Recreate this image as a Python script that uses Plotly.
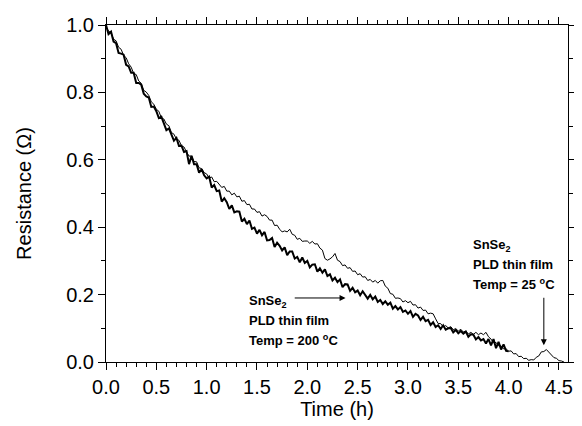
import numpy as np
import plotly.graph_objects as go

# resistance vs time (step 0.025 h)
t_200 = np.round(np.arange(0, 161) * 0.025, 3)
r_200 = [
    1.000, 0.973, 0.980, 0.951, 0.946, 0.917, 0.915, 0.912, 0.882, 0.877,
    0.858, 0.858, 0.828, 0.828, 0.823, 0.796, 0.788, 0.785, 0.757, 0.758,
    0.744, 0.724, 0.728, 0.706, 0.688, 0.693, 0.677, 0.657, 0.665, 0.641,
    0.642, 0.623, 0.626, 0.587, 0.612, 0.587, 0.587, 0.562, 0.572, 0.554,
    0.545, 0.550, 0.518, 0.525, 0.507, 0.509, 0.476, 0.486, 0.474, 0.454,
    0.465, 0.444, 0.447, 0.446, 0.417, 0.425, 0.409, 0.420, 0.395, 0.399,
    0.381, 0.392, 0.376, 0.386, 0.361, 0.362, 0.368, 0.341, 0.354, 0.345,
    0.331, 0.340, 0.317, 0.328, 0.328, 0.307, 0.312, 0.296, 0.310, 0.294,
    0.300, 0.281, 0.289, 0.290, 0.268, 0.278, 0.265, 0.275, 0.255, 0.260,
    0.242, 0.250, 0.237, 0.245, 0.222, 0.231, 0.230, 0.211, 0.220, 0.207,
    0.212, 0.198, 0.210, 0.197, 0.188, 0.199, 0.186, 0.194, 0.178, 0.184,
    0.172, 0.180, 0.170, 0.176, 0.158, 0.166, 0.156, 0.163, 0.149, 0.153,
    0.143, 0.151, 0.134, 0.143, 0.138, 0.125, 0.134, 0.121, 0.125, 0.110,
    0.118, 0.104, 0.109, 0.098, 0.109, 0.096, 0.100, 0.101, 0.088, 0.095,
    0.085, 0.092, 0.084, 0.090, 0.075, 0.082, 0.081, 0.067, 0.074, 0.064,
    0.068, 0.055, 0.068, 0.049, 0.068, 0.041, 0.060, 0.037, 0.052, 0.033,
    0.032,
]

t_25 = np.round(np.arange(0, 183) * 0.025, 3)
r_25 = [
    0.995, 0.982, 0.977, 0.958, 0.953, 0.934, 0.928, 0.910, 0.903, 0.885,
    0.875, 0.856, 0.853, 0.834, 0.827, 0.806, 0.801, 0.791, 0.772, 0.765,
    0.750, 0.744, 0.724, 0.721, 0.706, 0.701, 0.681, 0.676, 0.661, 0.658,
    0.641, 0.638, 0.623, 0.611, 0.611, 0.595, 0.594, 0.576, 0.574, 0.562,
    0.558, 0.546, 0.549, 0.535, 0.536, 0.525, 0.518, 0.521, 0.507, 0.507,
    0.496, 0.501, 0.490, 0.492, 0.477, 0.479, 0.467, 0.468, 0.454, 0.454,
    0.444, 0.446, 0.433, 0.437, 0.432, 0.421, 0.421, 0.405, 0.406, 0.394,
    0.386, 0.389, 0.386, 0.394, 0.379, 0.376, 0.364, 0.367, 0.358, 0.359,
    0.359, 0.352, 0.358, 0.350, 0.351, 0.338, 0.332, 0.307, 0.302, 0.306,
    0.312, 0.322, 0.302, 0.298, 0.286, 0.288, 0.278, 0.280, 0.269, 0.270,
    0.259, 0.262, 0.252, 0.253, 0.242, 0.245, 0.237, 0.242, 0.234, 0.241,
    0.242, 0.225, 0.219, 0.203, 0.201, 0.189, 0.190, 0.188, 0.178, 0.182,
    0.176, 0.180, 0.169, 0.170, 0.160, 0.163, 0.153, 0.154, 0.143, 0.145,
    0.143, 0.128, 0.114, 0.114, 0.104, 0.108, 0.101, 0.105, 0.096, 0.099,
    0.092, 0.097, 0.089, 0.092, 0.083, 0.088, 0.082, 0.088, 0.081, 0.086,
    0.081, 0.088, 0.075, 0.068, 0.057, 0.058, 0.048, 0.048, 0.039, 0.039,
    0.032, 0.033, 0.024, 0.025, 0.016, 0.017, 0.010, 0.011, 0.005, 0.007,
    0.006, 0.014, 0.018, 0.030, 0.031, 0.037, 0.029, 0.024, 0.013, 0.011,
    0.004, 0.003, 0.000,
]

FONT = "Liberation Sans, Arial, sans-serif"

fig = go.Figure()
fig.add_trace(go.Scatter(x=t_25, y=r_25, mode="lines",
                         line=dict(color="black", width=1), showlegend=False))
fig.add_trace(go.Scatter(x=t_200, y=r_200, mode="lines",
                         line=dict(color="black", width=2), showlegend=False))

axis_style = dict(
    showline=True, linecolor="black", linewidth=1, mirror="ticks",
    ticks="outside", ticklen=7, tickwidth=1, tickcolor="black",
    showgrid=False, zeroline=False,
    tickfont=dict(family=FONT, size=20, color="black"),
)

fig.update_xaxes(range=[0, 4.59], dtick=0.5, tickformat=".1f",
                 minor=dict(dtick=0.1, ticklen=4, ticks="outside", tickcolor="black"),
                 title=dict(text="Time (h)", font=dict(family=FONT, size=20, color="black"), standoff=0),
                 **axis_style)
fig.update_yaxes(range=[0, 1.0], dtick=0.2, tickformat=".1f",
                 minor=dict(dtick=0.1, ticklen=4, ticks="outside", tickcolor="black"),
                 title=dict(text="Resistance (Ω)", font=dict(family=FONT, size=20, color="black"), standoff=29),
                 **axis_style)

# annotation labels
lab_font = dict(family=FONT, size=13, color="black")
labels_200 = ["<b>SnSe<sub>2</sub></b>", "<b>PLD thin film</b>", "<b>Temp = 200 <sup>o</sup>C</b>"]
labels_25 = ["<b>SnSe<sub>2</sub></b>", "<b>PLD thin film</b>", "<b>Temp = 25 <sup>o</sup>C</b>"]
for txt, yy in zip(labels_200, [0.18, 0.122, 0.064]):
    fig.add_annotation(x=1.40, y=yy, text=txt, showarrow=False,
                       xanchor="left", yanchor="middle", font=lab_font)
for txt, yy in zip(labels_25, [0.346, 0.288, 0.23]):
    fig.add_annotation(x=3.63, y=yy, text=txt, showarrow=False,
                       xanchor="left", yanchor="middle", font=lab_font)

# arrows
fig.add_annotation(x=2.38, y=0.19, ax=1.86, ay=0.19, axref="x", ayref="y",
                   text="", showarrow=True, arrowhead=2, arrowsize=1.2,
                   arrowwidth=1, arrowcolor="black")
fig.add_annotation(x=4.35, y=0.05, ax=4.35, ay=0.195, axref="x", ayref="y",
                   text="", showarrow=True, arrowhead=2, arrowsize=1.2,
                   arrowwidth=1, arrowcolor="black")

# page body has an 8px margin, so the figure is 8px smaller than the window
fig.update_layout(
    width=574, height=418,
    margin=dict(l=98, r=6, t=10, b=64),
    plot_bgcolor="white", paper_bgcolor="white",
)

fig.write_html("out.html")
